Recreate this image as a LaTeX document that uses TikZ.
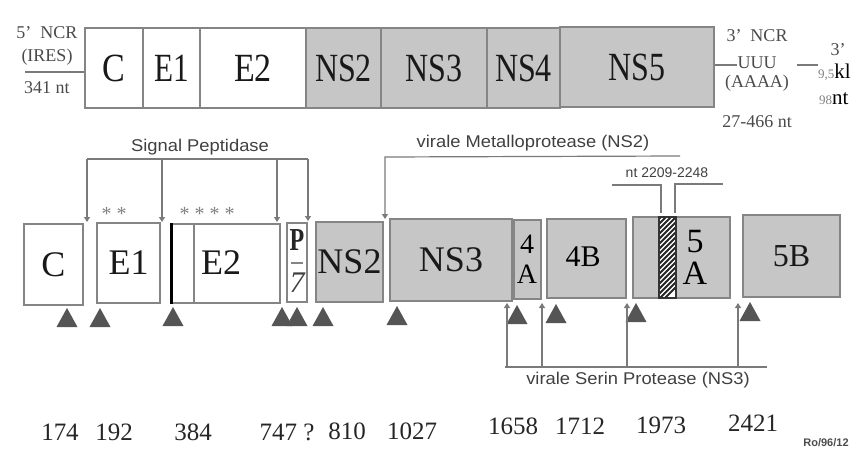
\documentclass[tikz,border=0pt]{standalone}
\usepackage{fontspec}
\setmainfont{Liberation Serif}
\setsansfont{Liberation Sans}
\usetikzlibrary{arrows.meta,calc}
\definecolor{boxgray}{HTML}{C6C6C6}
\definecolor{edgegray}{HTML}{858585}
\definecolor{linegray}{HTML}{7A7A7A}
\definecolor{tricol}{HTML}{555555}
\definecolor{txtgray}{HTML}{4A4A4A}
\newcommand\hsq[2]{\scalebox{#1}[1]{#2}}
\begin{document}
\begin{tikzpicture}[x=1pt,y=-1pt,
  topbox/.style={draw=edgegray, line width=1.3pt, minimum height=80pt, inner sep=0pt, font=\fontsize{40}{40}\selectfont, text=black!90},
  topw/.style={topbox, fill=white},
  topg/.style={topbox, fill=boxgray},
  lowbox/.style={draw=edgegray, line width=1.5pt, inner sep=0pt, font=\fontsize{36}{36}\selectfont, text=black!90},
  loww/.style={lowbox, fill=white},
  lowg/.style={lowbox, fill=boxgray},
  lbl/.style={inner sep=0pt, font=\fontsize{36}{36}\selectfont, text=black!90},
  smalltxt/.style={inner sep=0pt, font=\fontsize{18}{18}\selectfont, text=txtgray},
  sanstxt/.style={inner sep=0pt, font=\sffamily\fontsize{17}{17}\selectfont, text=black!75},
  numtxt/.style={inner sep=0pt, font=\fontsize{25}{25}\selectfont, text=black!85},
  conn/.style={draw=linegray, line width=1.2pt},
  arr/.style={conn, -{Triangle[length=5pt,width=6pt]}},
  pics/tri/.style={code={\fill[tricol] (-10.5,0) -- (0,-19) -- (10.5,0) -- cycle;}}
]
\useasboundingbox (0,0) rectangle (865,452);

% ---------- top genome bar ----------
\node[topw, minimum width=58pt]  (tC)   at (114,68)   {\hsq{0.85}{C}};
\node[topw, minimum width=57pt]  (tE1)  at (171.5,68) {\hsq{0.78}{E1}};
\node[topw, minimum width=106pt] (tE2)  at (253,68)   {\hsq{0.85}{E2}};
\node[topg, minimum width=75pt]  (tNS2) at (343.5,68) {\hsq{0.8}{NS2}};
\node[topg, minimum width=106pt] (tNS3) at (434,68)   {\hsq{0.8}{NS3}};
\node[topg, minimum width=73pt]  (tNS4) at (523.5,68) {\hsq{0.8}{NS4}};
\node[topg, minimum width=154pt] (tNS5) at (637,67)   {\hsq{0.8}{NS5}};

% left 5' NCR
\node[smalltxt] (ncr5) at (47,33) {5’\ \ NCR};
\node[smalltxt] (ires) at (47,57) {(IRES)};
\node[smalltxt] (nt341) at (47,88) {341 nt};
\coordinate (lline) at (25,72);
\draw[conn] (lline) -- (tC.west |- lline);

% right 3' NCR
\node[smalltxt] (ncr3) at (757,36) {3’\ \ NCR};
\node[smalltxt] (uuu) at (757,63) {UUU};
\node[smalltxt] (aaaa) at (757,83) {(AAAA)};
\node[smalltxt] (nt27) at (757,122) {27-466 nt};
\coordinate (r1a) at (737,65);
\coordinate (r2a) at (797,65);
\coordinate (r2b) at (818,65);
\draw[conn] (tNS5.east |- r1a) -- (r1a);
\draw[conn] (r2a) -- (r2b);
\node[smalltxt] (end3) at (838,50) {3’};
\node[inner sep=0pt, anchor=west] (kl) at (818,72) {{\fontsize{13}{13}\selectfont\color{gray}9,5}{\fontsize{21}{21}\selectfont kl}};
\node[inner sep=0pt, anchor=west] (nt98) at (819,99) {{\fontsize{13}{13}\selectfont\color{gray}98}{\fontsize{21}{21}\selectfont nt}};

% ---------- lower polyprotein row ----------
\node[loww, minimum width=59pt, minimum height=81pt] (bC)  at (53.5,264.5) {C};
\node[loww, minimum width=63pt, minimum height=80pt] (bE1) at (128.5,263) {E1};
\node[loww, minimum width=108pt, minimum height=79pt] (bE2) at (226,263.5) {};
\node[lbl] (lE2) at (221,263) {E2};
\draw[black, line width=3.5pt] (bE2.north west) -- (bE2.south west);
\coordinate (e2in) at (194,0);
\draw[edgegray, line width=1.3pt] (e2in |- bE2.north) -- (e2in |- bE2.south);
\node[loww, minimum width=20pt, minimum height=79pt] (bP7) at (297,262.5) {};
\node[inner sep=0pt, font=\bfseries\fontsize{32}{32}\selectfont, text=black!85] (lP) at (297,240) {\hsq{0.75}{P}};
\node[inner sep=0pt, font=\itshape\fontsize{30}{30}\selectfont, text=black!75] (l7) at (297,283) {7};
\coordinate (p7a) at (291,263);
\coordinate (p7b) at (303,263);
\draw[edgegray, line width=1.2pt] (p7a) -- (p7b);
\node[lowg, minimum width=67pt, minimum height=80pt] (bNS2) at (349.5,262) {NS2};
\node[lowg, minimum width=122pt, minimum height=82pt] (bNS3) at (451,260) {NS3};
\node[lowg, minimum width=27pt, minimum height=79pt] (b4A) at (527.5,259.5) {};
\node[inner sep=0pt, font=\fontsize{28}{28}\selectfont] (l4) at (527,244) {4};
\node[inner sep=0pt, font=\fontsize{28}{28}\selectfont] (lA4) at (527,274) {A};
\node[lowg, minimum width=79pt, minimum height=79pt] (b4B) at (586.5,258.5) {};
\node[inner sep=0pt, font=\fontsize{30}{30}\selectfont] (l4B) at (583,257) {4B};
\node[lowg, minimum width=97pt, minimum height=81pt] (b5A) at (681.5,257.5) {};
\node[inner sep=0pt, font=\fontsize{34}{34}\selectfont] (l5) at (695,242) {5};
\node[inner sep=0pt, font=\fontsize{34}{34}\selectfont] (lA5) at (695,273) {A};
\node[lowg, minimum width=97pt, minimum height=82pt, font=\fontsize{32}{32}\selectfont] (b5B) at (791.5,256) {5B};

% hatched strip in 5A
\coordinate (hsw) at (659,298);
\coordinate (hne) at (676,217);
\fill[white] (hsw) rectangle (hne);
\begin{scope}
  \clip (hsw) rectangle (hne);
  \foreach \k in {0,...,22} {
    \draw[black!85, line width=1.8pt] (655,{300-5*\k+8}) -- (680,{300-5*\k-17});
  }
\end{scope}
\draw[black!80, line width=1.2pt] (hsw) rectangle (hne);

% cleavage triangles
\foreach \tx/\ty in {67/327,100/327,173/326,282/326,297/326,323/326,397/325,517/324,556/323,636/322,750/321}
  \pic at (\tx,\ty) {tri};

% ---------- Signal Peptidase bracket ----------
\node[sanstxt] (sp) at (200,147) {\hsq{1.08}{Signal Peptidase}};
\coordinate (sp1) at (87,159);
\coordinate (sp2) at (162,159);
\coordinate (sp3) at (277,159);
\coordinate (sp4) at (308,159);
\coordinate (st1) at (87,222);
\coordinate (st2) at (162,222);
\coordinate (st3) at (277,222);
\coordinate (st4) at (308,221);
\draw[conn] (sp1) -- (sp4);
\draw[arr] (sp1) -- (st1);
\draw[arr] (sp2) -- (st2);
\draw[arr] (sp3) -- (st3);
\draw[arr] (sp4) -- (st4);

% asterisks
\node[inner sep=0pt, font=\fontsize{20}{20}\selectfont, text=gray] (ast1) at (114,214) {* *};
\node[inner sep=0pt, font=\fontsize{20}{20}\selectfont, text=gray] (ast2) at (207,214) {* * * *};

% ---------- Metalloprotease bracket ----------
\node[sanstxt] (mp) at (533,143) {\hsq{1.08}{virale Metalloprotease (NS2)}};
\coordinate (mR) at (680,156);
\coordinate (mL) at (385,157);
\coordinate (mT) at (385,219);
\draw[arr] (mR) -- (mL) -- (mT);

% ---------- nt 2209-2248 ----------
\node[sanstxt, font=\sffamily\fontsize{14}{14}\selectfont] (ntr) at (667,173) {nt 2209-2248};
\coordinate (nl1) at (612,185);
\coordinate (nl2) at (661,185);
\coordinate (nl3) at (661,213);
\coordinate (nr1) at (675,213);
\coordinate (nr2) at (675,184);
\coordinate (nr3) at (723,184);
\draw[conn] (nl1) -- (nl2) -- (nl3);
\draw[conn] (nr1) -- (nr2) -- (nr3);

% ---------- Serin Protease bracket ----------
\node[sanstxt] (srp) at (638,380) {\hsq{1.08}{virale Serin Protease (NS3)}};
\coordinate (sL) at (505,367);
\coordinate (sR) at (767,367);
\draw[conn] (sL) -- (sR);
\foreach \sx in {507,542,627,738} {
  \draw[arr] (\sx,367) -- (\sx,303);
}

% ---------- positions ----------
\node[numtxt] (n174)  at (60,432)  {174};
\node[numtxt] (n192)  at (114,432) {192};
\node[numtxt] (n384)  at (193,432) {384};
\node[numtxt] (n747)  at (287,432) {747 ?};
\node[numtxt] (n810)  at (347,431) {810};
\node[numtxt] (n1027) at (412,431) {1027};
\node[numtxt] (n1658) at (513,426) {1658};
\node[numtxt] (n1712) at (580,426) {1712};
\node[numtxt] (n1973) at (661,425) {1973};
\node[numtxt] (n2421) at (753,423) {2421};
\node[inner sep=0pt, font=\sffamily\bfseries\fontsize{11}{11}\selectfont, text=black!70] (ref) at (826,443) {Ro/96/12};
\end{tikzpicture}
\end{document}
